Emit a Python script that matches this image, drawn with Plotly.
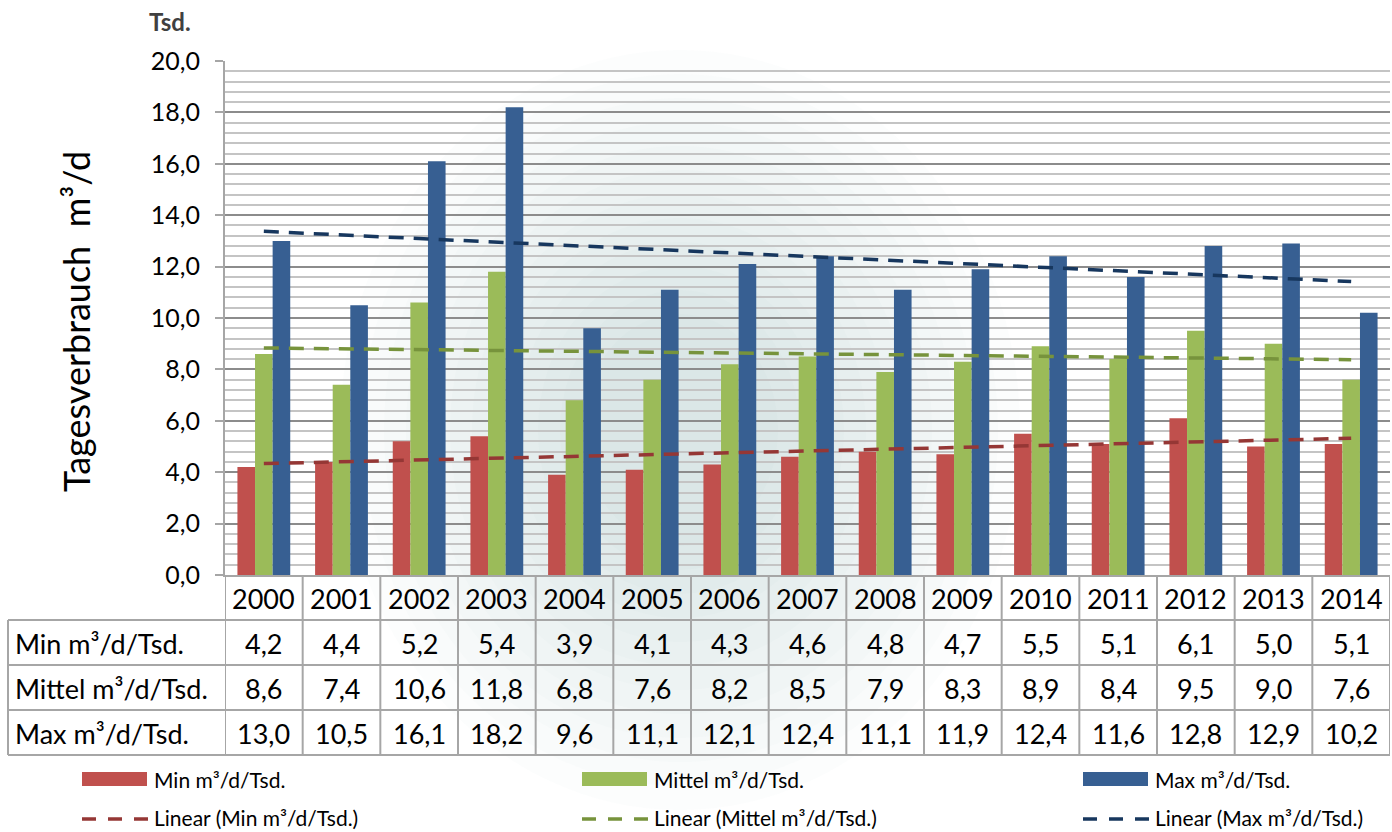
import numpy as np
import plotly.graph_objects as go

years = [str(y) for y in range(2000, 2015)]
series_names = ["Min m³/d/Tsd.", "Mittel m³/d/Tsd.", "Max m³/d/Tsd."]
min_vals = [4.2, 4.4, 5.2, 5.4, 3.9, 4.1, 4.3, 4.6, 4.8, 4.7, 5.5, 5.1, 6.1, 5.0, 5.1]
mittel_vals = [8.6, 7.4, 10.6, 11.8, 6.8, 7.6, 8.2, 8.5, 7.9, 8.3, 8.9, 8.4, 9.5, 9.0, 7.6]
max_vals = [13.0, 10.5, 16.1, 18.2, 9.6, 11.1, 12.1, 12.4, 11.1, 11.9, 12.4, 11.6, 12.8, 12.9, 10.2]
y_title = "Tagesverbrauch  m³/d"
unit_label = "Tsd."

bar_colors = ["#C0504D", "#9BBB59", "#375F92"]
trend_colors = ["#953735", "#77933C", "#17375E"]
all_vals = [min_vals, mittel_vals, max_vals]

FONT = "Lato"
W, H = 1392, 832
L, R, T, B = 225, 2, 61, 257
PW, PH = W - L - R, H - T - B

def px_x(px):
    return (px - L) / PW

def px_y(py):
    return (H - B - py) / PH

fig = go.Figure()
for name, vals, col in zip(series_names, all_vals, bar_colors):
    fig.add_trace(go.Bar(x=years, y=vals, name=name, marker=dict(color=col, line=dict(width=0)),
                         showlegend=False))

idx = np.arange(1, len(years) + 1)
for name, vals, col in zip(series_names, all_vals, trend_colors):
    k, d = np.polyfit(idx, np.array(vals), 1)
    fit = k * idx + d
    fig.add_trace(go.Scatter(x=years, y=fit, mode="lines", name="Linear (" + name + ")",
                             line=dict(color=col, width=3.5, dash="15px,10px"), showlegend=False))

shapes = []
annotations = []
gray = "#A6A6A6"

# faint watermark glow (soft, many layers)
cx, cy = 680, 430
for k in range(12):
    rx = 340 - k * 22
    ry = 380 - k * 24
    shapes.append(dict(type="circle", xref="paper", yref="paper", layer="below",
                       x0=px_x(cx - rx), x1=px_x(cx + rx), y0=px_y(cy + ry), y1=px_y(cy - ry),
                       fillcolor="rgba(120,170,145,0.018)", line=dict(width=0)))

# table row lines
row_lines = [620, 665, 710, 755]
for py in row_lines:
    shapes.append(dict(type="line", xref="paper", yref="paper", x0=px_x(8), x1=1.0,
                       y0=px_y(py), y1=px_y(py), line=dict(color=gray, width=2)))
n = len(years)
for i in range(n + 1):
    shapes.append(dict(type="line", xref="x", yref="paper", x0=i - 0.5, x1=i - 0.5,
                       y0=0, y1=px_y(755), line=dict(color=gray, width=2)))
shapes.append(dict(type="line", xref="paper", yref="paper", x0=px_x(8), x1=px_x(8),
                   y0=px_y(620), y1=px_y(755), line=dict(color=gray, width=2)))

TF = 27
for i, yv in enumerate(years):
    annotations.append(dict(x=i, y=px_y(598), xref="x", yref="paper", text=yv, showarrow=False,
                            font=dict(family=FONT, size=TF, color="#000000"), xanchor="center", yanchor="middle"))
row_centers = [643, 688, 733]
for name, vals, cy_ in zip(series_names, all_vals, row_centers):
    annotations.append(dict(x=px_x(13), y=px_y(cy_), xref="paper", yref="paper", text=name, showarrow=False,
                            font=dict(family=FONT, size=TF, color="#000000"), xanchor="left", yanchor="middle"))
    for i, v in enumerate(vals):
        annotations.append(dict(x=i, y=px_y(cy_), xref="x", yref="paper", text=f"{v:.1f}".replace(".", ","),
                                showarrow=False, font=dict(family=FONT, size=TF, color="#000000"),
                                xanchor="center", yanchor="middle"))

# legend
leg_x = [82, 582, 1083]
LF = 21
for name, col, tcol, lx in zip(series_names, bar_colors, trend_colors, leg_x):
    shapes.append(dict(type="rect", xref="paper", yref="paper", x0=px_x(lx), x1=px_x(lx + 65),
                       y0=px_y(786), y1=px_y(772), fillcolor=col, line=dict(width=0)))
    annotations.append(dict(x=px_x(lx + 70), y=px_y(779), xref="paper", yref="paper", text=name, showarrow=False,
                            font=dict(family=FONT, size=LF, color="#000000"), xanchor="left", yanchor="middle"))
    shapes.append(dict(type="line", xref="paper", yref="paper", x0=px_x(lx), x1=px_x(lx + 66),
                       y0=px_y(819), y1=px_y(819), line=dict(color=tcol, width=3.5, dash="14px,12px")))
    annotations.append(dict(x=px_x(lx + 70), y=px_y(817), xref="paper", yref="paper",
                            text="Linear (" + name + ")", showarrow=False,
                            font=dict(family=FONT, size=LF, color="#000000"), xanchor="left", yanchor="middle"))

annotations.append(dict(x=px_x(147), y=px_y(21), xref="paper", yref="paper", text="<b>" + unit_label + "</b>",
                        showarrow=False, font=dict(family=FONT, size=24, color="#404040"),
                        xanchor="left", yanchor="middle"))
annotations.append(dict(x=px_x(76), y=px_y(322), xref="paper", yref="paper", text=y_title, textangle=-90,
                        showarrow=False, font=dict(family=FONT, size=36, color="#000000"),
                        xanchor="center", yanchor="middle"))

fig.update_layout(
    width=W, height=H,
    margin=dict(l=L, r=R, t=T, b=B),
    paper_bgcolor="white", plot_bgcolor="rgba(0,0,0,0)",
    barmode="group", bargap=0.32, bargroupgap=0,
    separators=",.",
    font=dict(family=FONT, color="#000000"),
    shapes=shapes, annotations=annotations,
    showlegend=False,
)
fig.update_xaxes(type="category", range=[-0.5, n - 0.5], showticklabels=False, ticks="",
                 showline=True, linecolor=gray, linewidth=2, showgrid=False, zeroline=False)
fig.update_yaxes(range=[0, 20], dtick=2, tickformat=".1f", ticks="outside", ticklen=8, tickcolor=gray,
                 tickwidth=2, showline=True, linecolor=gray, linewidth=2, ticklabelstandoff=10,
                 showgrid=True, gridcolor="#8C8C8C", gridwidth=2, zeroline=False,
                 minor=dict(dtick=0.4, showgrid=True, gridcolor="#C4C4C4", gridwidth=2, ticks=""),
                 tickfont=dict(family=FONT, size=25, color="#000000"))

fig.write_html("out.html")
